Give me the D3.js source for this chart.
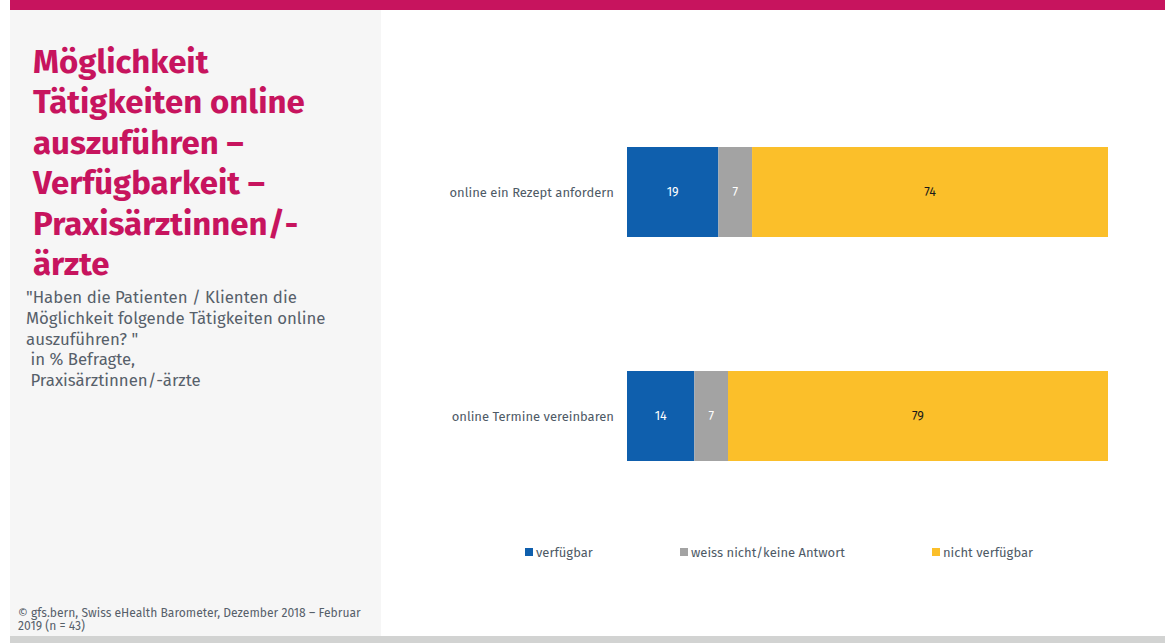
<!DOCTYPE html>
<html>
<head>
<meta charset="utf-8">
<script src="https://cdnjs.cloudflare.com/ajax/libs/d3/7.8.5/d3.min.js"></script>
<style>
  body { margin: 0; background: #fff; }
  svg { display: block; }
  text { font-family: "Fira Sans", "Noto Sans", sans-serif; }
</style>
</head>
<body>
<div id="chart"></div>
<script>
// Data - - - - - - - - - - - - - - - - - - - - - - - - - - - - - - - - - - - - -
var categories = ["online ein Rezept anfordern", "online Termine vereinbaren"]
var seriesNames = ["verfügbar", "weiss nicht/keine Antwort", "nicht verfügbar"]
var verfuegbar = [19, 14]
var weissNicht = [7, 7]
var nichtVerfuegbar = [74, 79]

var titleLines = ["Möglichkeit", "Tätigkeiten online", "auszuführen –", "Verfügbarkeit –", "Praxisärztinnen/-", "ärzte"]
var subtitleLines = ["\"Haben die Patienten / Klienten die", "Möglichkeit folgende Tätigkeiten online", "auszuführen? \"", " in % Befragte,", " Praxisärztinnen/-ärzte"]
var sourceLines = ["© gfs.bern, Swiss eHealth Barometer, Dezember 2018 – Februar", "2019 (n = 43)"]

// Canvas - - - - - - - - - - - - - - - - - - - - - - - - - - - - - - - - - - - -
var svgWidth = 1165
  , svgHeight = 643
  , colors = ["#0f5fad", "#a3a3a3", "#fbbf2a"]
  , textColor = "#4e5a66"
  , barHeight = 90

var svg = d3.select("#chart").append("svg")
    .attr("width", svgWidth)
    .attr("height", svgHeight)

// frame: top magenta strip, grey side panel, grey bottom strip
svg.append("rect").attr("x", 10).attr("y", 9).attr("width", 371).attr("height", 628).attr("fill", "#f6f6f6")
svg.append("rect").attr("x", 10).attr("y", 0).attr("width", svgWidth - 10).attr("height", 10).attr("fill", "#c7145e")
svg.append("rect").attr("x", 10).attr("y", 636).attr("width", svgWidth - 10).attr("height", 7).attr("fill", "#d2d3d2")

// Title block
svg.append("g").selectAll("text")
    .data(titleLines).enter()
    .append("text")
      .attr("x", 33)
      .attr("y", (d, i) => 73 + i * 40.4)
      .attr("fill", "#c7145e")
      .style("font-size", "33px")
      .style("font-weight", "bold")
      .text(d => d)

svg.append("g").selectAll("text")
    .data(subtitleLines).enter()
    .append("text")
      .attr("x", 26)
      .attr("y", (d, i) => 303 + i * 20.8)
      .attr("fill", "#56606a")
      .style("font-size", "16.8px")
      .attr("xml:space", "preserve")
      .text(d => d)

svg.append("g").selectAll("text")
    .data(sourceLines).enter()
    .append("text")
      .attr("x", 18)
      .attr("y", (d, i) => 617 + i * 13)
      .attr("fill", "#56606a")
      .style("font-size", "12.1px")
      .text(d => d)

// Scales - - - - - - - - - - - - - - - - - - - - - - - - - - - - - - - - - - - -
var x = d3.scaleLinear().domain([0, 100]).range([627, 1108])
var y = d3.scalePoint().domain(categories).range([192, 416])

var rows = categories.map(function(c, i) {
    var vals = [verfuegbar[i], weissNicht[i], nichtVerfuegbar[i]]
    var start = 0
    return vals.map(function(v, k) {
        var seg = {cat: c, key: k, v: v, x0: start, x1: start + v}
        start += v
        return seg
    })
})
var segments = d3.merge(rows)

var bars = svg.append("g")
bars.selectAll("rect")
    .data(segments).enter()
    .append("rect")
      .attr("x", d => x(d.x0))
      .attr("width", d => x(d.x1) - x(d.x0))
      .attr("y", d => y(d.cat) - barHeight / 2)
      .attr("height", barHeight)
      .attr("fill", d => colors[d.key])

bars.selectAll("text")
    .data(segments).enter()
    .append("text")
      .attr("x", d => (x(d.x0) + x(d.x1)) / 2)
      .attr("y", d => y(d.cat))
      .attr("dy", "0.35em")
      .attr("text-anchor", "middle")
      .attr("fill", d => d.key == 2 ? "#1a1a1a" : "#ffffff")
      .style("font-size", "12.5px")
      .text(d => d.v)

// category labels
svg.append("g").selectAll("text")
    .data(categories).enter()
    .append("text")
      .attr("x", 614)
      .attr("y", d => y(d))
      .attr("dy", "0.35em")
      .attr("text-anchor", "end")
      .attr("fill", textColor)
      .style("font-size", "13px")
      .text(d => d)

// Legend
var legendX = [525, 680, 932]
var legend = svg.append("g").selectAll("g")
    .data(seriesNames).enter()
    .append("g")
      .attr("transform", (d, i) => "translate(" + legendX[i] + ",548)")

legend.append("rect")
    .attr("width", 8).attr("height", 8)
    .attr("fill", (d, i) => colors[i])

legend.append("text")
    .attr("x", 11)
    .attr("y", 4)
    .attr("dy", "0.35em")
    .attr("fill", textColor)
    .style("font-size", "13px")
    .text(d => d)
</script>
</body>
</html>
